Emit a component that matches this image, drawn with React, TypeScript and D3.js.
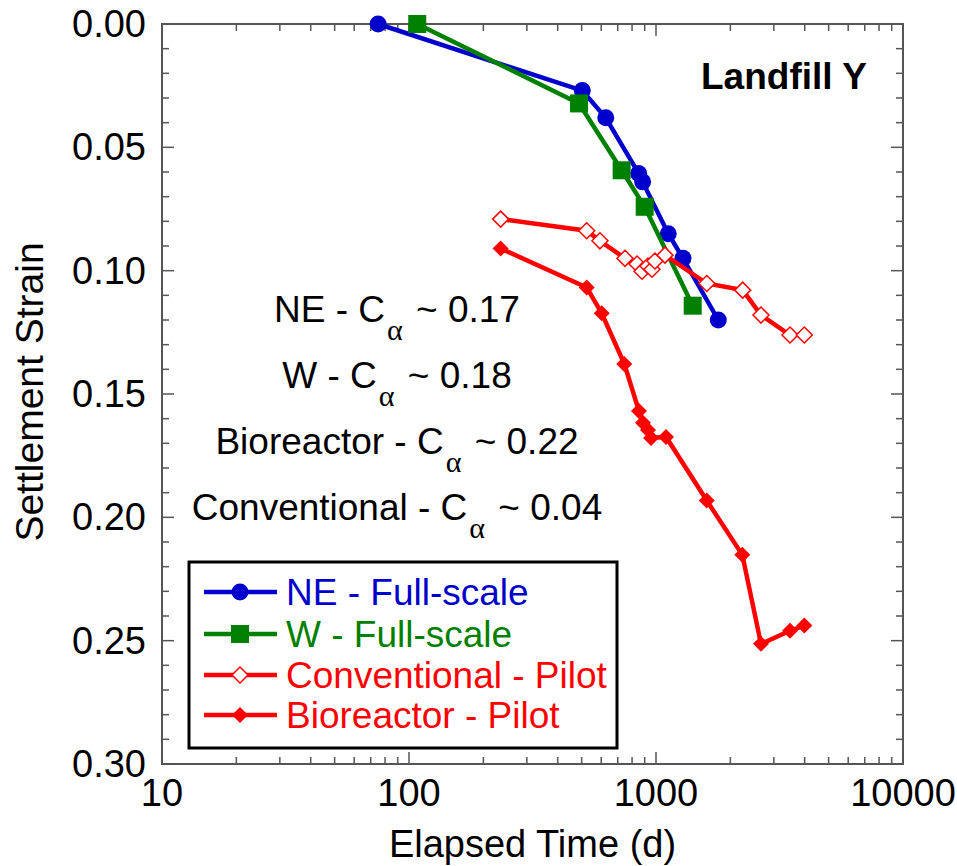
import React from "react";
import * as d3 from "d3";

// elapsed time (d) and settlement strain
const neTime = [75, 503, 626, 851, 883, 1121, 1286, 1787];
const neStrain = [0.0, 0.027, 0.038, 0.0606, 0.064, 0.085, 0.095, 0.12];

const wTime = [108, 488, 726, 900, 1408];
const wStrain = [0.0, 0.0322, 0.0593, 0.0741, 0.1142];

const convTime = [235, 524, 593, 749, 838, 878, 928, 963, 990, 1087, 1605, 2244, 2661, 3487, 3985];
const convStrain = [0.0791, 0.0838, 0.0879, 0.095, 0.0973, 0.1002, 0.0981, 0.0994, 0.0961, 0.0937, 0.1052, 0.1079, 0.118, 0.1261, 0.1261];

const bioTime = [235, 524, 603, 744, 853, 886, 928, 955, 1098, 1605, 2236, 2661, 3487, 3985];
const bioStrain = [0.091, 0.1068, 0.1173, 0.1378, 0.1569, 0.1617, 0.1646, 0.1678, 0.1674, 0.1932, 0.2152, 0.2513, 0.246, 0.2439];

const xTickLabels = [10, 100, 1000, 10000];
const yTickLabels = [0, 0.05, 0.1, 0.15, 0.2, 0.25, 0.3];

const annotations = [
  { pre: "NE - C", post: " ~ 0.17" },
  { pre: "W - C", post: " ~ 0.18" },
  { pre: "Bioreactor - C", post: " ~ 0.22" },
  { pre: "Conventional - C", post: " ~ 0.04" },
];

const BLUE = "#0000cc";
const GREEN = "#008000";
const RED = "#ff0000";
const AXIS = "#555";
const FONT = "'Liberation Sans', Arial, sans-serif";

const series = [
  { name: "NE - Full-scale", t: neTime, s: neStrain, color: BLUE, marker: "circle" },
  { name: "W - Full-scale", t: wTime, s: wStrain, color: GREEN, marker: "square" },
  { name: "Conventional - Pilot", t: convTime, s: convStrain, color: RED, marker: "openDiamond" },
  { name: "Bioreactor - Pilot", t: bioTime, s: bioStrain, color: RED, marker: "diamond" },
];

const Marker = ({ type, x, y, color }: { type: string; x: number; y: number; color: string }) => {
  if (type === "circle") return <circle cx={x} cy={y} r={8.5} fill={color} />;
  if (type === "square") return <rect x={x - 9} y={y - 9} width={18} height={18} fill={color} />;
  const d = 8;
  const pts = `${x},${y - d} ${x + d},${y} ${x},${y + d} ${x - d},${y}`;
  if (type === "openDiamond") return <polygon points={pts} fill="white" stroke={color} strokeWidth={1.5} />;
  return <polygon points={pts} fill={color} />;
};

export default function App() {
  const width = 957;
  const height = 866;
  const left = 162, right = 903, top = 24, bottom = 764;

  const x = d3.scaleLog().domain([10, 10000]).range([left, right]);
  const y = d3.scaleLinear().domain([0, 0.3]).range([top, bottom]);

  const xMinor = x.ticks().filter((v) => !xTickLabels.includes(v));
  const yMinor = d3.range(0, 0.3001, 0.01).map((v) => +v.toFixed(2)).filter((v) => !yTickLabels.some((m) => Math.abs(m - v) < 1e-9));

  const line = d3
    .line<[number, number]>()
    .x((d) => x(d[0]))
    .y((d) => y(d[1]));

  const legendX = 189, legendY = 562, legendW = 428, legendH = 186;
  const legendRows = [592, 634, 675, 715];

  return (
    <svg width={width} height={height} style={{ position: "absolute", left: 0, top: 0 }} fontFamily={FONT}>
      <rect width={width} height={height} fill="white" />

      {/* frame */}
      <rect x={left} y={top} width={right - left} height={bottom - top} fill="none" stroke={AXIS} strokeWidth={2} />

      {/* y ticks, left and right, inside */}
      {yTickLabels.map((v) => (
        <g key={"ym" + v}>
          <line x1={left} x2={left + 12} y1={y(v)} y2={y(v)} stroke={AXIS} strokeWidth={1.5} />
          <line x1={right} x2={right - 12} y1={y(v)} y2={y(v)} stroke={AXIS} strokeWidth={1.5} />
          <text x={146} y={y(v) + 13} fontSize={38} textAnchor="end">
            {v.toFixed(2)}
          </text>
        </g>
      ))}
      {yMinor.map((v) => (
        <g key={"yn" + v}>
          <line x1={left} x2={left + 7} y1={y(v)} y2={y(v)} stroke={AXIS} strokeWidth={1.5} />
          <line x1={right} x2={right - 7} y1={y(v)} y2={y(v)} stroke={AXIS} strokeWidth={1.5} />
        </g>
      ))}

      {/* x ticks, bottom and top, inside */}
      {xTickLabels.map((v) => (
        <g key={"xm" + v}>
          <line x1={x(v)} x2={x(v)} y1={bottom} y2={bottom - 12} stroke={AXIS} strokeWidth={1.5} />
          <line x1={x(v)} x2={x(v)} y1={top} y2={top + 12} stroke={AXIS} strokeWidth={1.5} />
          <text x={x(v)} y={806} fontSize={38} textAnchor="middle">
            {v}
          </text>
        </g>
      ))}
      {xMinor.map((v) => (
        <g key={"xn" + v}>
          <line x1={x(v)} x2={x(v)} y1={bottom} y2={bottom - 7} stroke={AXIS} strokeWidth={1.5} />
          <line x1={x(v)} x2={x(v)} y1={top} y2={top + 7} stroke={AXIS} strokeWidth={1.5} />
        </g>
      ))}

      <text x={(left + right) / 2} y={857} fontSize={38} textAnchor="middle">
        Elapsed Time (d)
      </text>
      <text transform="translate(43,392) rotate(-90)" fontSize={39} textAnchor="middle">
        Settlement Strain
      </text>

      {/* data */}
      {series.map((sr) => {
        const pts: [number, number][] = sr.t.map((t, i) => [t, sr.s[i]]);
        return (
          <g key={sr.name}>
            <path d={line(pts) || ""} fill="none" stroke={sr.color} strokeWidth={4.5} />
            {pts.map((p, i) => (
              <Marker key={i} type={sr.marker} x={x(p[0])} y={y(p[1])} color={sr.color} />
            ))}
          </g>
        );
      })}

      <text x={701} y={89} fontSize={37} fontWeight="bold">
        Landfill Y
      </text>

      {annotations.map((a, i) => (
        <text key={a.pre} x={397} y={322 + i * 66} fontSize={37} textAnchor="middle">
          {a.pre}
          <tspan dx={2} dy={18} fontSize={30} fontFamily="'Liberation Serif', 'DejaVu Serif', serif">
            α
          </tspan>
          <tspan dx={3} dy={-18}>{a.post}</tspan>
        </text>
      ))}

      {/* legend */}
      <rect x={legendX} y={legendY} width={legendW} height={legendH} fill="white" stroke="black" strokeWidth={3} />
      {series.map((sr, i) => (
        <g key={"lg" + sr.name}>
          <line x1={204} x2={277} y1={legendRows[i]} y2={legendRows[i]} stroke={sr.color} strokeWidth={4.5} />
          <Marker type={sr.marker} x={240} y={legendRows[i]} color={sr.color} />
          <text x={286} y={legendRows[i] + 13} fontSize={37} fill={sr.color}>
            {sr.name}
          </text>
        </g>
      ))}
    </svg>
  );
}
